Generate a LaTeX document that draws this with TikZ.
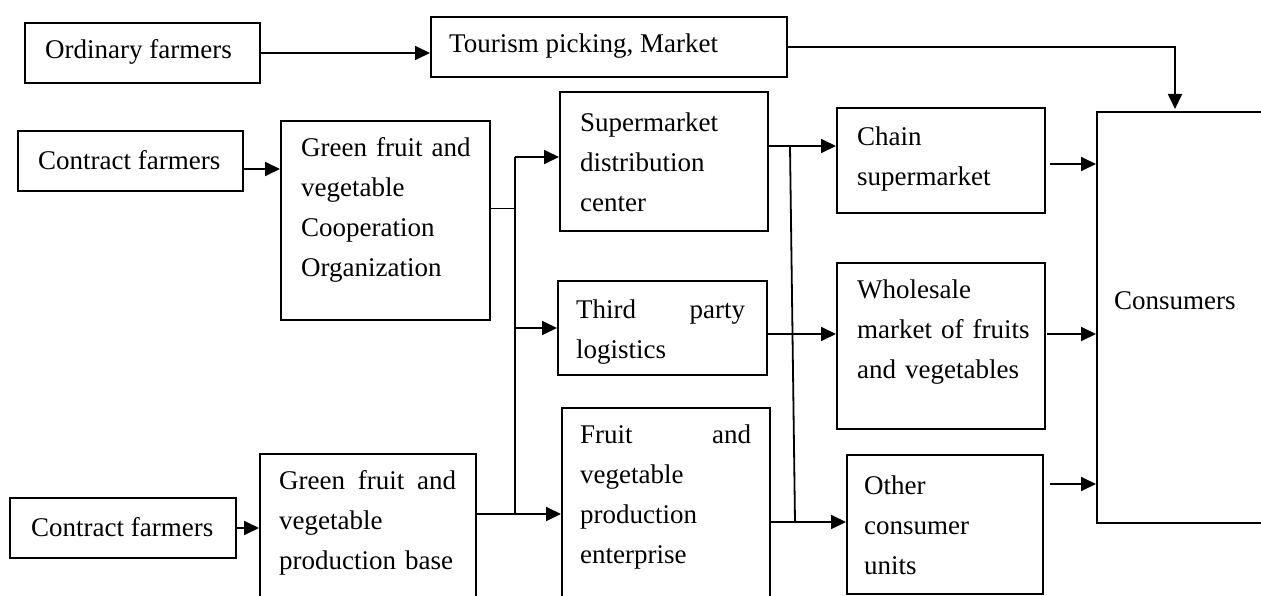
\documentclass[tikz,border=0pt]{standalone}
\usepackage{fontspec}
\setmainfont{Liberation Serif}
\usetikzlibrary{arrows.meta,calc}

\begin{document}
\begin{tikzpicture}[x=1pt, y=-1pt,
    box/.style={draw, line width=2pt, anchor=north west, inner sep=0pt},
    txt/.style={anchor=west, inner sep=0pt, align=left,
      font=\fontsize{27}{40}\selectfont},
    arr/.style={line width=1.8pt, -{Triangle[length=15pt, width=14pt]}},
    line/.style={line width=1.8pt}]
  \useasboundingbox (0,0) rectangle (1261,596);
  \clip (0,0) rectangle (1261,596);

  % boxes
  \node[box, minimum width=235pt, minimum height=60pt] (ord) at (24,22) {};
  \node[box, minimum width=356pt, minimum height=60pt] (tour) at (430,16) {};
  \node[box, minimum width=225pt, minimum height=60pt] (cf1) at (17,130) {};
  \node[box, minimum width=209pt, minimum height=199pt] (coop) at (280,120) {};
  \node[box, minimum width=208pt, minimum height=139pt] (sup) at (559,91) {};
  \node[box, minimum width=208pt, minimum height=105pt] (chain) at (836,107) {};
  \node[box, minimum width=220pt, minimum height=411pt] (cons) at (1096,111) {};
  \node[box, minimum width=209pt, minimum height=94pt] (third) at (557,280) {};
  \node[box, minimum width=208pt, minimum height=166pt] (whole) at (836,262) {};
  \node[box, minimum width=208pt, minimum height=210pt] (ent) at (561,407) {};
  \node[box, minimum width=196pt, minimum height=139pt] (other) at (846,454) {};
  \node[box, minimum width=226pt, minimum height=60pt] (cf2) at (9,497) {};
  \node[box, minimum width=216pt, minimum height=160pt] (base) at (259,453) {};

  % texts
  \node[txt] (ord-t) at (45,52) {Ordinary farmers};
  \node[txt] (tour-t) at (449,46) {Tourism picking, Market};
  \node[txt] (cf1-t) at (38,160) {Contract farmers};
  \node[txt, text width=170pt] (coop-t) at (301,210)
    {Green fruit and\\vegetable\\Cooperation\\Organization};
  \node[txt, text width=170pt] (sup-t) at (580,162)
    {Supermarket\\distribution\\center};
  \node[txt, text width=170pt] (chain-t) at (857,159) {Chain\\supermarket};
  \node[txt] (cons-t) at (1114,301) {Consumers};
  \node[txt, text width=169pt] (third-t) at (576,332)
    {Third\hfill party\\logistics};
  \node[txt, text width=178pt] (whole-t) at (857,332)
    {Wholesale\\market of fruits\\and vegetables};
  \node[txt, text width=171pt] (ent-t) at (580,497)
    {Fruit\hfill and\\vegetable\\production\\enterprise};
  \node[txt, text width=160pt] (other-t) at (864,525)
    {Other\\consumer\\units};
  \node[txt] (cf2-t) at (31,527) {Contract farmers};
  \node[txt, text width=177pt] (base-t) at (279,523)
    {Green\hfill fruit\hfill and\\vegetable\\production base};

  % junctions
  \coordinate (t1) at (515,157);
  \coordinate (t2) at (515,514);
  \coordinate (s1) at (790,146);
  \coordinate (s2) at (795,522);

  % connectors
  \draw[arr] (ord.east) -- (ord.east -| tour.west);
  \draw[arr] (tour.east) -| ([xshift=79pt, yshift=2pt]cons.north west);
  \draw[arr] ($(cf1.east)+(0,8)$) coordinate (a1) -- (a1 -| coop.west);
  \draw[line] ($(coop.east)+(0,-12)$) coordinate (c1) -- (c1 -| t1);
  \draw[line] (t1) -- (t2);
  \draw[arr] (t1) -- (t1 -| sup.west);
  \draw[arr] (t1 |- third.west) -- (third.west);
  \draw[arr] (t2) -- (t2 -| ent.west);
  \draw[line] (base.east |- t2) -- (t2);
  \draw[arr] (cf2.east) -- (cf2.east -| base.west);
  \draw[line] (sup.east |- s1) -- (s1);
  \draw[arr] (s1) -- (s1 -| chain.west);
  \draw[line] (s1) -- (s2);
  \draw[arr] (ent.east |- s2) -- (s2 -| other.west);
  \draw[arr] ($(third.east)+(0,6)$) coordinate (a2) -- (a2 -| whole.west);
  \draw[arr] ($(chain.east)+(4,3.5)$) coordinate (a3) -- (a3 -| cons.west);
  \draw[arr] ($(whole.east)+(1,-12)$) coordinate (a4) -- (a4 -| cons.west);
  \draw[arr] ($(other.east)+(6,-40.5)$) coordinate (a5) -- (a5 -| cons.west);
\end{tikzpicture}
\end{document}
